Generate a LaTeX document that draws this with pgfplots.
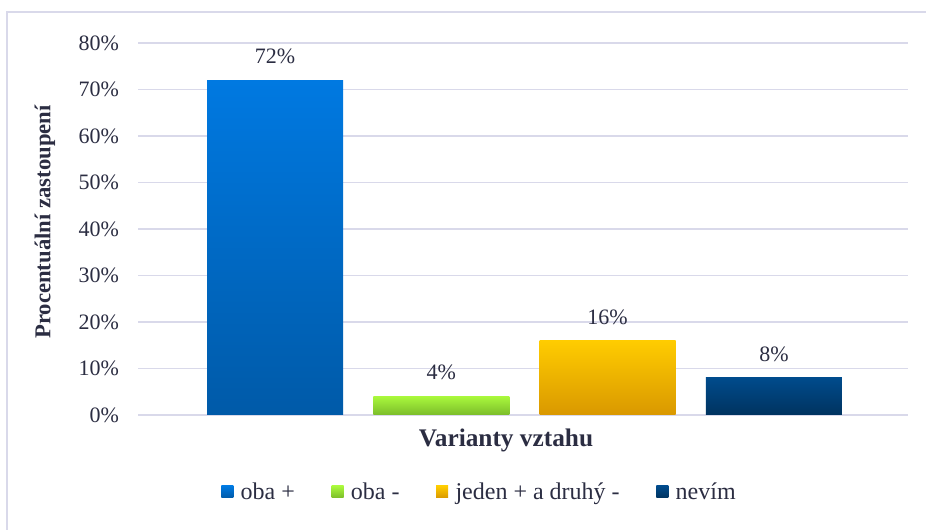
\documentclass[border=0pt]{standalone}
\usepackage{fontspec}
\setmainfont{Liberation Serif}
\usepackage{pgfplots}
\pgfplotsset{compat=1.18}
\definecolor{txt}{HTML}{2B2D42}
\definecolor{gridc}{HTML}{D9D9EA}
\definecolor{aT}{HTML}{0079E1}\definecolor{aB}{HTML}{005AA8}
\definecolor{bT}{HTML}{A9F83C}\definecolor{bB}{HTML}{7BBC2A}
\definecolor{cT}{HTML}{FFCC00}\definecolor{cB}{HTML}{D99800}
\definecolor{dT}{HTML}{004B8C}\definecolor{dB}{HTML}{00335F}
\begin{document}
\begin{tikzpicture}[x=0.75pt,y=0.75pt]
\useasboundingbox (0,0) rectangle (926,530);
\draw[gridc, line width=1.1pt] (7,-5) -- (7,518) -- (935,518);
\begin{axis}[
  at={(103.5pt,86.25pt)}, anchor=south west,
  scale only axis, width=577.5pt, height=279pt,
  xmin=-0.824, xmax=3.806, ymin=0, ymax=80,
  ytick={0,10,...,80}, xtick=\empty,
  ymajorgrids, grid style={gridc, line width=1pt},
  axis line style={draw=none}, major tick length=0pt,
  /pgf/number format/assume math mode=true,
  yticklabel={\pgfmathprintnumber{\tick}\%},
  yticklabel style={font=\fontsize{16.5}{19}\selectfont, text=txt, inner sep=0pt, xshift=-14pt},
  ybar, bar width=102pt, bar shift=0pt,
  nodes near coords={\pgfmathprintnumber{\pgfplotspointmeta}\%},
  nodes near coords style={font=\fontsize{16.5}{19}\selectfont, text=txt, inner sep=0pt, anchor=south, yshift=12pt},
  legend columns=4,
  legend style={draw=none, fill=none, at={(0.444,-0.207)}, anchor=center,
    font=\fontsize{18}{21}\selectfont, text=txt,
    /tikz/every odd column/.append style={column sep=3.5pt},
    /tikz/every even column/.append style={column sep=25.5pt}},
  clip=false,
]
\addplot[draw=none, top color=aT, bottom color=aB,
  legend image code/.code={\shade[top color=aT,bottom color=aB] (0pt,-4.5pt) rectangle (9pt,4.5pt);}]
  coordinates {(0,72)};
\addlegendentry{oba +}
\addplot[draw=none, top color=bT, bottom color=bB,
  legend image code/.code={\shade[top color=bT,bottom color=bB] (0pt,-4.5pt) rectangle (9pt,4.5pt);}]
  coordinates {(1,4)};
\addlegendentry{oba -}
\addplot[draw=none, top color=cT, bottom color=cB,
  legend image code/.code={\shade[top color=cT,bottom color=cB] (0pt,-4.5pt) rectangle (9pt,4.5pt);}]
  coordinates {(2,16)};
\addlegendentry{jeden + a druhý -}
\addplot[draw=none, top color=dT, bottom color=dB,
  legend image code/.code={\shade[top color=dT,bottom color=dB] (0pt,-4.5pt) rectangle (9pt,4.5pt);}]
  coordinates {(3,8)};
\addlegendentry{nevím}
\end{axis}
\node[font=\bfseries\fontsize{19}{22}\selectfont, text=txt] at (506,90) {Varianty vztahu};
\node[font=\bfseries\fontsize{17}{20}\selectfont, text=txt, rotate=90] at (45,308) {Procentuální zastoupení};
\end{tikzpicture}
\end{document}
